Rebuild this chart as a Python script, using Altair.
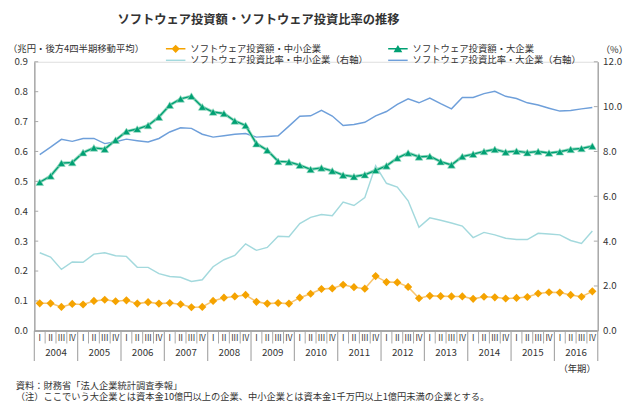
import altair as alt
import pandas as pd

FONT = "Noto Sans CJK JP"

years = list(range(2004, 2017))
quarters = ["I", "II", "III", "IV"]

# ソフトウェア投資額・中小企業（兆円）
small_amount = [0.092, 0.092, 0.080, 0.090, 0.088, 0.100, 0.104, 0.099, 0.102, 0.091,
                0.096, 0.091, 0.093, 0.089, 0.079, 0.080, 0.100, 0.111, 0.115, 0.120,
                0.097, 0.091, 0.093, 0.091, 0.111, 0.124, 0.140, 0.142, 0.154, 0.146,
                0.141, 0.183, 0.163, 0.162, 0.147, 0.109, 0.117, 0.116, 0.115, 0.115,
                0.107, 0.114, 0.112, 0.108, 0.110, 0.113, 0.125, 0.129, 0.128, 0.120,
                0.114, 0.132]
# ソフトウェア投資額・大企業（兆円）
large_amount = [0.497, 0.518, 0.561, 0.563, 0.596, 0.612, 0.608, 0.638, 0.667, 0.675,
                0.687, 0.715, 0.755, 0.776, 0.785, 0.749, 0.732, 0.727, 0.702, 0.687,
                0.626, 0.604, 0.567, 0.565, 0.554, 0.540, 0.545, 0.535, 0.521, 0.516,
                0.522, 0.537, 0.552, 0.578, 0.595, 0.582, 0.584, 0.566, 0.555, 0.583,
                0.591, 0.600, 0.607, 0.598, 0.601, 0.596, 0.600, 0.595, 0.599, 0.607,
                0.610, 0.618]
# ソフトウェア投資比率・中小企業（%）
small_ratio = [3.48, 3.29, 2.74, 3.07, 3.06, 3.42, 3.48, 3.35, 3.32, 2.83,
               2.83, 2.55, 2.42, 2.39, 2.20, 2.28, 2.86, 3.17, 3.36, 3.88,
               3.59, 3.72, 4.22, 4.20, 4.78, 5.06, 5.19, 5.13, 5.74, 5.59,
               5.94, 7.36, 6.58, 6.41, 5.80, 4.62, 5.04, 4.93, 4.81, 4.67,
               4.16, 4.39, 4.28, 4.13, 4.07, 4.07, 4.35, 4.32, 4.28, 4.03,
               3.90, 4.45]
# ソフトウェア投資比率・大企業（%）
large_ratio = [7.86, 8.19, 8.54, 8.45, 8.58, 8.58, 8.35, 8.43, 8.55, 8.48,
               8.42, 8.58, 8.87, 9.06, 9.03, 8.77, 8.64, 8.70, 8.77, 8.80,
               8.64, 8.67, 8.70, 9.13, 9.57, 9.59, 9.83, 9.58, 9.16, 9.20,
               9.30, 9.59, 9.78, 10.10, 10.35, 10.17, 10.38, 10.13, 9.90, 10.41,
               10.41, 10.58, 10.68, 10.46, 10.36, 10.17, 10.07, 9.93, 9.80, 9.83,
               9.90, 9.96]

left_ticks = [0.0, 0.1, 0.2, 0.3, 0.4, 0.5, 0.6, 0.7, 0.8, 0.9]
right_ticks = [0.0, 2.0, 4.0, 6.0, 8.0, 10.0, 12.0]

lab_small_amount = "ソフトウェア投資額・中小企業"
lab_large_amount = "ソフトウェア投資額・大企業"
lab_small_ratio = "ソフトウェア投資比率・中小企業（右軸）"
lab_large_ratio = "ソフトウェア投資比率・大企業（右軸）"

title_text = "ソフトウェア投資額・ソフトウェア投資比率の推移"
left_unit = "（兆円・後方4四半期移動平均）"
right_unit = "（%）"
x_unit = "（年期）"
note1 = "資料：財務省「法人企業統計調査季報」"
note2 = "（注）ここでいう大企業とは資本金10億円以上の企業、中小企業とは資本金1千万円以上1億円未満の企業とする。"

# colours
C_ORANGE = "#F5A300"
C_ORANGE_L = "#F8C56E"
C_GREEN = "#00A073"
C_GREEN_L = "#9ADBC3"
C_LBLUE = "#A3D9DD"
C_BLUE = "#6E9FDA"
C_AXIS = "#A8A8A8"
C_TEXT = "#333333"

n = len(small_amount)
W, H = 578, 276

df = pd.DataFrame({
    "pos": [i + 0.5 for i in range(n)],
    "q": [quarters[i % 4] for i in range(n)],
    "small_amount": small_amount,
    "large_amount": large_amount,
    "small_ratio": small_ratio,
    "large_ratio": large_ratio,
})
years_df = pd.DataFrame({"pos": [i * 4 + 2 for i in range(len(years))],
                         "year": [str(y) for y in years]})
minor_df = pd.DataFrame({"b": [k for k in range(n + 1) if k % 4 != 0]})
major_df = pd.DataFrame({"b": [k for k in range(n + 1) if k % 4 == 0]})
lt_df = pd.DataFrame({"v": left_ticks})
rt_df = pd.DataFrame({"v": right_ticks})

xs = alt.Scale(domain=[0, n], nice=False, zero=False)
yL = alt.Scale(domain=[0, 0.9], nice=False)
yR = alt.Scale(domain=[0, 12], nice=False)

axisL = alt.Axis(orient="left", values=left_ticks, format=".1f", grid=False, ticks=False,
                 tickSize=0, domainColor=C_AXIS, domainWidth=1.5, labelPadding=7,
                 labelFontSize=10, labelColor=C_TEXT, labelFont=FONT, title=None)
axisR = alt.Axis(orient="right", values=right_ticks, format=".1f", grid=False, ticks=False,
                 tickSize=0, domainColor=C_AXIS, domainWidth=1.5, labelPadding=5,
                 labelFontSize=10, labelColor=C_TEXT, labelFont=FONT, title=None)

base = alt.Chart(df)
X = alt.X("pos:Q", scale=xs, axis=None)

# ----- left-axis layers
o_line = base.mark_line(color=C_ORANGE_L, strokeWidth=1.6).encode(
    x=X, y=alt.Y("small_amount:Q", scale=yL, axis=axisL))
g_halo = base.mark_line(color=C_GREEN_L, strokeWidth=3.2).encode(
    x=X, y=alt.Y("large_amount:Q", scale=yL, axis=axisL))
g_line = base.mark_line(color=C_GREEN, strokeWidth=1.4).encode(
    x=X, y=alt.Y("large_amount:Q", scale=yL, axis=axisL))
o_pts = base.mark_point(shape="diamond", filled=True, color=C_ORANGE, size=70, opacity=1).encode(
    x=X, y=alt.Y("small_amount:Q", scale=yL, axis=axisL))
g_pts = base.mark_point(shape="triangle-up", filled=True, color=C_GREEN, size=62, opacity=1,
                        stroke=C_GREEN_L, strokeWidth=0.6).encode(
    x=X, y=alt.Y("large_amount:Q", scale=yL, axis=axisL))
l_ticks = alt.Chart(lt_df).mark_rule(color=C_AXIS, strokeWidth=1).encode(
    x=alt.value(0), x2=alt.value(4), y=alt.Y("v:Q", scale=yL, axis=axisL))
left = alt.layer(l_ticks, o_line, g_halo, g_line, o_pts, g_pts)

# ----- right-axis layers
lb_line = base.mark_line(color=C_LBLUE, strokeWidth=1.5).encode(
    x=X, y=alt.Y("small_ratio:Q", scale=yR, axis=axisR))
b_line = base.mark_line(color=C_BLUE, strokeWidth=1.5).encode(
    x=X, y=alt.Y("large_ratio:Q", scale=yR, axis=axisR))
r_ticks = alt.Chart(rt_df).mark_rule(color=C_AXIS, strokeWidth=1).encode(
    x=alt.value(W - 4), x2=alt.value(W), y=alt.Y("v:Q", scale=yR, axis=axisR))
right = alt.layer(r_ticks, lb_line, b_line)

# ----- x axis (quarters / years)
baseline = alt.Chart(major_df).mark_rule(color=C_AXIS, strokeWidth=1).encode(
    x=alt.value(0), x2=alt.value(W), y=alt.value(H))
minor = alt.Chart(minor_df).mark_rule(color=C_AXIS, strokeWidth=1).encode(
    x=alt.X("b:Q", scale=xs, axis=None), y=alt.value(H), y2=alt.value(H + 13))
major = alt.Chart(major_df).mark_rule(color=C_AXIS, strokeWidth=1.2).encode(
    x=alt.X("b:Q", scale=xs, axis=None), y=alt.value(H), y2=alt.value(H + 31))
q_txt = base.mark_text(font=FONT, fontSize=8.5, color=C_TEXT, baseline="middle").encode(
    x=X, y=alt.value(H + 7.5), text="q:N")
y_txt = alt.Chart(years_df).mark_text(font=FONT, fontSize=10, color=C_TEXT, baseline="middle").encode(
    x=alt.X("pos:Q", scale=xs, axis=None), y=alt.value(H + 23), text="year:N")

# ----- legend (library legend with custom symbols); entries in grid order
p_line = "M-2,-0.15H2V0.15H-2Z"
p_diamond = p_line + " M0,-0.85L0.85,0L0,0.85L-0.85,0Z"
p_triangle = p_line + " M0,-0.8L0.9,0.7L-0.9,0.7Z"
leg_domain = [lab_small_amount, lab_small_ratio, lab_large_amount, lab_large_ratio]
leg_colors = [C_ORANGE, C_LBLUE, C_GREEN, C_BLUE]
leg_shapes = [p_diamond, p_line, p_triangle, p_line]
leg_df = pd.DataFrame({"series": leg_domain})

leg = alt.Legend(orient="none", legendX=140, legendY=-18.5, columns=2, title=None,
                 symbolSize=100, symbolStrokeWidth=0, labelOffset=10, labelFontSize=9.6,
                 labelFont=FONT, labelColor=C_TEXT, labelLimit=400, columnPadding=20,
                 rowPadding=2, padding=0, symbolOpacity=1)
legend_layer = alt.Chart(leg_df).mark_point(filled=True).encode(
    x=alt.value(-900), y=alt.value(-900),
    color=alt.Color("series:N", scale=alt.Scale(domain=leg_domain, range=leg_colors),
                    legend=leg, sort=leg_domain),
    shape=alt.Shape("series:N", scale=alt.Scale(domain=leg_domain, range=leg_shapes),
                    legend=leg, sort=leg_domain),
)

# ----- texts
def txt(s, x, y, size, align="left", weight="normal"):
    return alt.Chart(pd.DataFrame({"t": [s]})).mark_text(
        font=FONT, fontSize=size, color=C_TEXT, align=align, baseline="middle",
        fontWeight=weight).encode(x=alt.value(x), y=alt.value(y), text="t:N")

texts = [
    txt(title_text, 230, -43, 12.6, "center", "bold"),
    txt(left_unit, -27, -13, 9.6, "left"),
    txt(right_unit, 581, -12, 9.6, "left"),
    txt(x_unit, 576, 315, 9.6, "right"),
    txt(note1, -19, 332.5, 9.5, "left"),
    txt(note2, -19, 344, 9.5, "left"),
]

chart = alt.layer(
    right, left, baseline, minor, major, q_txt, y_txt, legend_layer, *texts
).resolve_scale(y="independent").properties(
    width=W, height=H,
    padding={"left": 27, "top": 50, "right": 30, "bottom": 74},
    autosize=alt.AutoSizeParams(type="none"),
).configure_view(stroke=None).configure(font=FONT)

chart.save("out.html", embed_options={"renderer": "svg", "actions": False})
